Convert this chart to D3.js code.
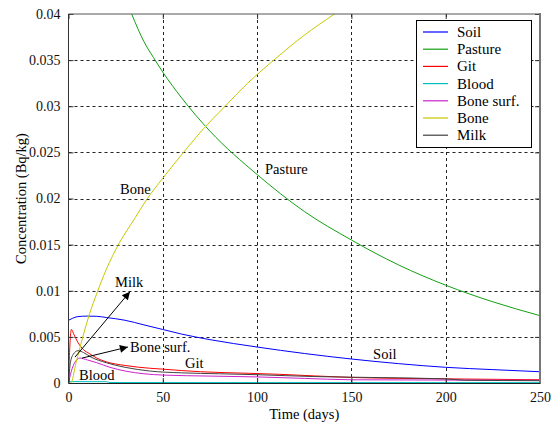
<!DOCTYPE html>
<html><head><meta charset="utf-8">
<script src="https://cdn.jsdelivr.net/npm/d3@7"></script>
<style>body{margin:0;background:#fff}svg{display:block}</style>
</head><body>
<svg id="chart" width="552" height="427"></svg>
<script>
// ---- data: [day, Bq/kg] ----
const soil = [[0,0.0068],[2,0.0070],[5,0.0072],[10,0.00725],[15,0.00723],[20,0.0071],[30,0.0068],[40,0.0063],[50,0.0058],[60,0.0053],[75,0.0047],[100,0.0039],[125,0.0032],[150,0.0026],[175,0.0021],[200,0.0017],[225,0.00145],[250,0.00122]];
const pasture = [[0,0.060],[10,0.054],[20,0.0475],[30,0.0418],[33.5,0.040],[40,0.0370],[45,0.0353],[50,0.0337],[60,0.0309],[75,0.0273],[100,0.0226],[125,0.0186],[150,0.0155],[175,0.0128],[200,0.0106],[225,0.0088],[250,0.0073]];
const git = [[0,0],[0.5,0.003],[1.5,0.0058],[3,0.0052],[5,0.0044],[8,0.0036],[11,0.0032],[15,0.0027],[20,0.0023],[30,0.0019],[43,0.0016],[50,0.0015],[70,0.00122],[96,0.00105],[112,0.00094],[150,0.0006],[175,0.0005],[200,0.00045],[250,0.00035]];
const blood = [[0,0.00015],[20,0.00014],[22,0.00005],[250,0.00004]];
const boneSurf = [[0,0],[1,0.0009],[3,0.0021],[6,0.0027],[10,0.0025],[15,0.0022],[22,0.0017],[30,0.0013],[40,0.001],[50,0.00086],[75,0.00075],[100,0.00066],[125,0.0005],[150,0.00035],[200,0.00032],[250,0.0003]];
const bone = [[0,0],[1.2,0],[4,0.0022],[8,0.0053],[11,0.0074],[15,0.0097],[20,0.0123],[27,0.0152],[35,0.0178],[41.5,0.0199],[50,0.0222],[61,0.025],[70,0.0272],[83,0.0300],[95,0.0325],[110,0.0352],[125,0.0377],[141,0.040],[160,0.0427],[200,0.0475],[250,0.052]];
const milk = [[0,0],[1,0.0022],[2.5,0.0031],[5,0.0035],[8,0.0033],[12,0.0028],[20,0.0022],[30,0.0017],[43,0.0013],[60,0.0011],[80,0.001],[100,0.0009],[130,0.0007],[160,0.0006],[200,0.00045],[210,0.0003],[250,0.00025]];

const seriesNames = ["Soil","Pasture","Git","Blood","Bone surf.","Bone","Milk"];
const seriesData = [soil, pasture, git, blood, boneSurf, bone, milk];
const seriesColors = ["#0000ff","#12a012","#ff0000","#00bfbf","#cc22cc","#c8c800","#404040"];

const xTicks = [0,50,100,150,200,250];
const yTicks = [0,0.005,0.01,0.015,0.02,0.025,0.03,0.035,0.04];
const yTickLabels = ["0","0.005","0.01","0.015","0.02","0.025","0.03","0.035","0.04"];

// in-plot labels [text, day, value]
const curveLabels = [["Bone",27.3,0.0205],["Pasture",104.2,0.0227],["Soil",161.5,0.0026],["Git",61.8,0.00162],["Blood",5.6,0.00032],["Bone surf.",32.6,0.00335],["Milk",24.7,0.01037]];
// arrows [fromDay, fromVal, toDay, toVal]
const arrows = [[3.4,0.0028,32.6,0.0099],[7.2,0.0027,31.5,0.0039]];

// ---- layout ----
const L=68.5, R=540, T=14, B=383;
const FONT = "Liberation Serif";
const svg = d3.select("#chart");
const x = d3.scaleLinear().domain([0,250]).range([L,R]);
const y = d3.scaleLinear().domain([0,0.04]).range([B,T]);

const defs = svg.append("defs");
defs.append("clipPath").attr("id","clip")
  .append("rect").attr("x",L).attr("y",T).attr("width",R-L).attr("height",B-T);
const m = defs.append("marker").attr("id","arr")
  .attr("viewBox","0 0 10 10").attr("refX",10).attr("refY",5)
  .attr("markerWidth",11).attr("markerHeight",8).attr("markerUnits","userSpaceOnUse").attr("orient","auto");
m.append("path").attr("d","M0,0L10,5L0,10z").attr("fill","#000");

// grid
const grid = svg.append("g").attr("stroke","#222").attr("stroke-width",1).attr("stroke-dasharray","3,3");
xTicks.filter(t=>t>0&&t<250).forEach(t=>{
  grid.append("line").attr("x1",Math.round(x(t))+0.5).attr("x2",Math.round(x(t))+0.5).attr("y1",T).attr("y2",B);
});
yTicks.filter(t=>t>0&&t<0.04).forEach(t=>{
  grid.append("line").attr("y1",Math.round(y(t))+0.5).attr("y2",Math.round(y(t))+0.5).attr("x1",L).attr("x2",R);
});

// series
const line = d3.line().x(d=>x(d[0])).y(d=>y(d[1])).curve(d3.curveMonotoneX);
const plot = svg.append("g").attr("clip-path","url(#clip)");
seriesData.forEach((s,i)=>{
  plot.append("path").attr("d",line(s)).attr("fill","none").attr("stroke",seriesColors[i]).attr("stroke-width",1);
});

// axes
const xAxis = d3.axisBottom(x).tickValues(xTicks).tickSize(-5).tickPadding(9).tickFormat(d3.format("d"));
const yAxis = d3.axisLeft(y).tickValues(yTicks).tickSize(-5).tickPadding(8).tickFormat((d,i)=>yTickLabels[i]);
const gx = svg.append("g").attr("transform",`translate(0,${B})`).call(xAxis);
const gy = svg.append("g").attr("transform",`translate(${L},0)`).call(yAxis);
svg.append("g").attr("transform",`translate(0,${T})`).call(d3.axisTop(x).tickValues(xTicks).tickSize(-5).tickFormat(""));
svg.append("g").attr("transform",`translate(${R},0)`).call(d3.axisRight(y).tickValues(yTicks).tickSize(-5).tickFormat(""));
svg.selectAll(".domain").remove();
svg.selectAll(".tick line").attr("stroke","#333");
[gx,gy].forEach(g=>g.selectAll("text").attr("fill","#111"));

// frame
svg.append("line").attr("x1",L).attr("x2",R).attr("y1",T).attr("y2",T).attr("stroke","#555");
svg.append("line").attr("x1",R).attr("x2",R).attr("y1",T-1).attr("y2",B+1).attr("stroke","#777").attr("stroke-width",2);
svg.append("line").attr("x1",L).attr("x2",L).attr("y1",T).attr("y2",B).attr("stroke","#333");
svg.append("line").attr("x1",L).attr("x2",R).attr("y1",B+0.5).attr("y2",B+0.5).attr("stroke","#222");

// axis titles
svg.append("text").attr("class","lbl").attr("x",(L+R)/2).attr("y",419).attr("text-anchor","middle").text("Time (days)");
svg.append("text").attr("class","lbl").attr("transform",`translate(26,${(T+B)/2}) rotate(-90)`).attr("text-anchor","middle").text("Concentration (Bq/kg)");

// curve labels and arrows
curveLabels.forEach(c=>{
  svg.append("text").attr("class","lbl").attr("x",x(c[1])).attr("y",y(c[2])).text(c[0]);
});
arrows.forEach(a=>{
  svg.append("line").attr("x1",x(a[0])).attr("y1",y(a[1])).attr("x2",x(a[2])).attr("y2",y(a[3]))
    .attr("stroke","#000").attr("stroke-width",1).attr("marker-end","url(#arr)");
});

// legend
const lg = svg.append("g");
lg.append("rect").attr("x",416.5).attr("y",20.5).attr("width",115).attr("height",127).attr("fill","#fff").attr("stroke","#000");
seriesNames.forEach((n,i)=>{
  const yy = 32 + i*17.2;
  lg.append("line").attr("x1",423).attr("x2",448).attr("y1",yy).attr("y2",yy).attr("stroke",seriesColors[i]).attr("stroke-width",1.2);
  lg.append("text").attr("class","leg").attr("x",457).attr("y",yy+5).text(n);
});

// fonts
svg.selectAll("g").attr("font-family",null).attr("font-size",null);
svg.selectAll("text").style("font-family",FONT).style("font-size","14px");
svg.selectAll("text.leg").style("font-size","15px");
svg.selectAll("text.lbl").style("font-size","14.5px");
</script>
</body></html>
